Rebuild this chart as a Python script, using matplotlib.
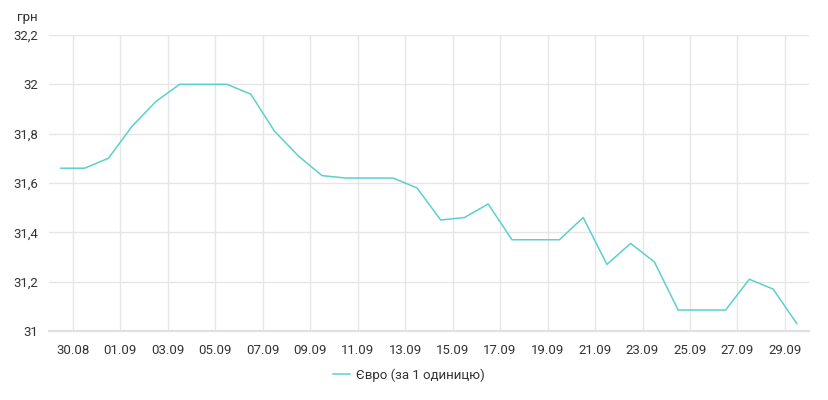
import datetime as dt
import matplotlib
matplotlib.use("Agg")
import matplotlib.pyplot as plt
import matplotlib.dates as mdates

# daily EUR rate (UAH per 1 EUR), 29.08 - 29.09
start = dt.datetime(2021, 8, 29)
rates = [
    31.66, 31.66, 31.70, 31.83, 31.93, 32.00, 32.00, 32.00,
    31.96, 31.81, 31.71, 31.63, 31.62, 31.62, 31.62, 31.58,
    31.45, 31.46, 31.515, 31.37, 31.37, 31.37, 31.46, 31.27,
    31.355, 31.28, 31.085, 31.085, 31.085, 31.21, 31.17, 31.03,
]
dates = [start + dt.timedelta(days=i, hours=12) for i in range(len(rates))]
tick_dates = [start + dt.timedelta(days=1 + 2 * i) for i in range(16)]
y_ticks = [31, 31.2, 31.4, 31.6, 31.8, 32, 32.2]
y_labels = ["31", "31,2", "31,4", "31,6", "31,8", "32", "32,2"]
series_name = "Євро (за 1 одиницю)"

plt.rcParams["font.family"] = ["Roboto", "DejaVu Sans"]
text_color = "#333333"
grid_color = "#e6e6e6"

fig = plt.figure(figsize=(8.29, 4.0), dpi=100)
ax = fig.add_axes([0.0591, 0.1725, 0.9164, 0.74])

line, = ax.plot(dates, rates, color="#5ccfcf", linewidth=1.1,
                solid_joinstyle="round", label=series_name)

ax.set_xlim(start, start + dt.timedelta(days=32))
ax.set_ylim(31, 32.2)

ax.set_xticks(tick_dates)
ax.xaxis.set_major_formatter(mdates.DateFormatter("%d.%m"))
ax.set_yticks(y_ticks)
ax.set_yticklabels(y_labels)

ax.grid(True, color=grid_color, linewidth=1)
ax.set_axisbelow(True)
for side in ["top", "right", "left"]:
    ax.spines[side].set_visible(False)
ax.spines["bottom"].set_color("#e0e0e0")
ax.spines["bottom"].set_linewidth(1.5)

ax.tick_params(axis="both", length=0, labelsize=9.5, colors=text_color)
ax.tick_params(axis="x", pad=9)
ax.tick_params(axis="y", pad=8)

fig.text(17 / 829, 1 - 17 / 400, "грн", fontsize=9.5, color=text_color,
         ha="left", va="center")

fig.legend(handles=[line], loc="center", bbox_to_anchor=(0.493, 1 - 375 / 400),
           frameon=False, fontsize=9.5, handlelength=1.3, handletextpad=0.4,
           labelcolor=text_color)

fig.savefig("out.png", dpi=100)
